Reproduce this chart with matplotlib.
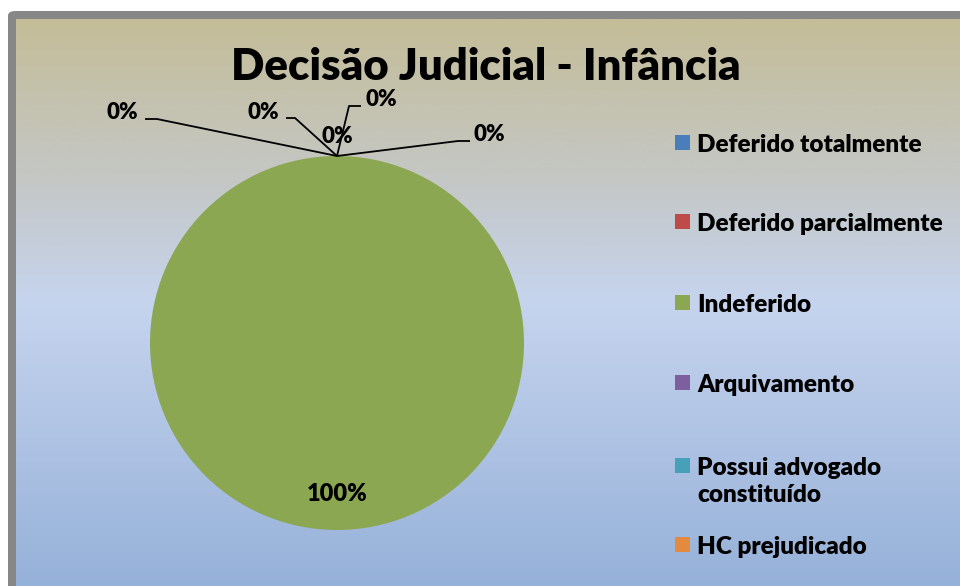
import numpy as np
import matplotlib
matplotlib.use("Agg")
import matplotlib.pyplot as plt
from matplotlib.patches import FancyBboxPatch, Rectangle
from matplotlib.colors import LinearSegmentedColormap

plt.rcParams['font.family'] = ['Lato', 'DejaVu Sans']

title = "Decisão Judicial - Infância"
categories = ["Deferido totalmente", "Deferido parcialmente", "Indeferido",
              "Arquivamento", "Possui advogado\nconstituído", "HC prejudicado"]
values = [0, 0, 100, 0, 0, 0]
colors = ["#4A7EBB", "#BE4B48", "#8BA752", "#7D5FA0", "#46A0B8", "#E38A3F"]

W, H = 960, 586
fig = plt.figure(figsize=(W / 100, H / 100), dpi=100)
fig.patch.set_facecolor("white")

def fx(px):
    return px / W

def fy(py):
    return 1 - py / H

WEIGHT = "heavy"

# gray frame
frame = FancyBboxPatch((fx(8), fy(620)), fx(1000), 620 / H - 11 / H,
                       boxstyle="round,pad=0,rounding_size=0.008",
                       transform=fig.transFigure, facecolor="#878787",
                       edgecolor="none", zorder=0)
fig.patches.append(frame)

# gradient background
bg = fig.add_axes([fx(16), 0, 1 - fx(16), (H - 19) / H], zorder=1)
stops = [(0.0, (196, 189, 152)), (0.30, (196, 200, 200)),
         (0.50, (198, 212, 238)), (1.0, (150, 177, 217))]
cmap = LinearSegmentedColormap.from_list(
    "bg", [(p, tuple(c / 255 for c in col)) for p, col in stops])
grad = np.linspace(0, 1, 512).reshape(-1, 1)
bg.imshow(grad, aspect="auto", cmap=cmap, extent=[0, 1, 1, 0])
bg.set_xlim(0, 1)
bg.set_ylim(1, 0)
bg.axis("off")

# title
fig.text(fx(486), fy(67), title, ha="center", va="center",
         fontsize=31.5, fontweight=WEIGHT, color="black", zorder=5)

# pie
R = 187
cx, cy = 337, 343
ax = fig.add_axes([fx(cx - R), fy(cy + R), 2 * R / W, 2 * R / H], zorder=3)
ax.patch.set_visible(False)
wedges, _ = ax.pie(values, colors=colors, startangle=90, counterclock=False,
                   radius=1, wedgeprops=dict(linewidth=0))
ax.set_xlim(-1, 1)
ax.set_ylim(-1, 1)
ax.set_aspect("equal")
ax.axis("off")

total = sum(values)

def d(px, py):
    return ((px - cx) / R, (cy - py) / R)

# nonzero slice label inside
for w, v in zip(wedges, values):
    if v > 0:
        mid = np.deg2rad((w.theta1 + w.theta2) / 2)
        ax.text(0.81 * np.cos(mid), 0.81 * np.sin(mid), f"{v / total:.0%}",
                ha="center", va="center", fontsize=17, fontweight=WEIGHT,
                color="black")

# zero slices: labels pulled outside with leader lines (layout)
zero_layout = [  # text center, elbow start, elbow end
    ((122, 112), (145, 119), (157, 119)),
    ((263, 112), (286, 118), (295, 118)),
    ((337, 136), None, None),
    ((381, 99), (361, 106), (349, 106)),
    ((489, 134), (470, 141), (458, 141)),
]
zero_idx = [i for i, v in enumerate(values) if v == 0]
for (i, (tc, e1, e2)) in zip(zero_idx, zero_layout):
    w = wedges[i]
    ang = np.deg2rad(w.theta1)
    tip = (np.cos(ang), np.sin(ang))
    ax.text(*d(*tc), f"{values[i] / total:.0%}", ha="center", va="center",
            clip_on=False, fontsize=16, fontweight=WEIGHT, color="black")
    if e1 is not None:
        p1, p2 = d(*e1), d(*e2)
        ax.plot([p1[0], p2[0], tip[0]], [p1[1], p2[1], tip[1]],
                color="black", lw=1.3, clip_on=False, solid_capstyle="butt")

# legend (manual, right side)
leg_y = [143, 222, 303, 383, 466, 545]
for cat, col, y in zip(categories, colors, leg_y):
    fig.patches.append(Rectangle((fx(675), fy(y + 7)), fx(15), 15 / H,
                                 transform=fig.transFigure, facecolor=col,
                                 edgecolor="none", zorder=6))
    fig.text(fx(697), fy(y - 9), cat, ha="left", va="top",
             fontsize=17.5, fontweight=WEIGHT, color="black",
             linespacing=1.3, zorder=6)

fig.savefig("out.png", dpi=100)
